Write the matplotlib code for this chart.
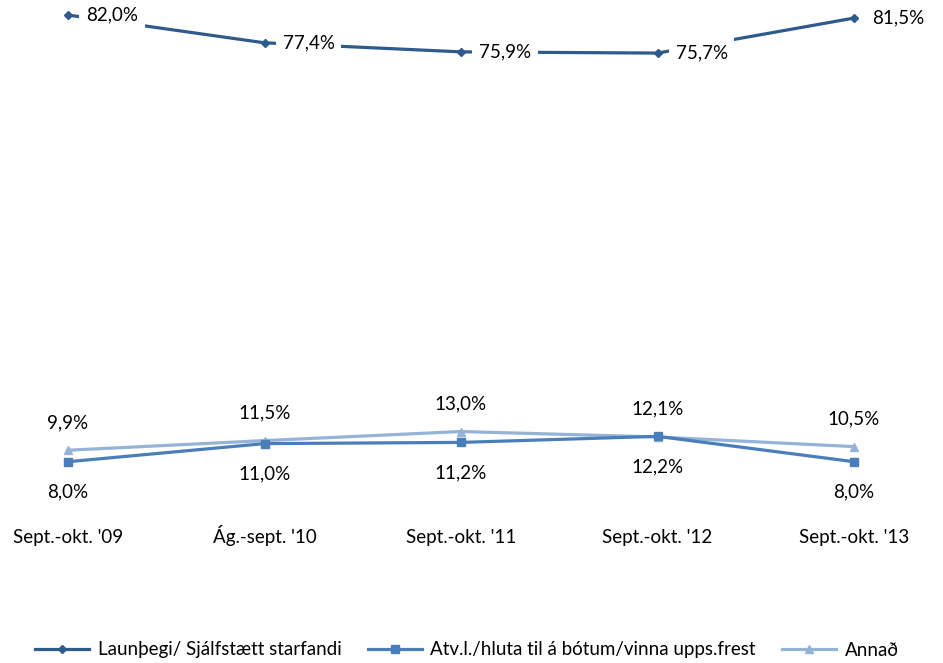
import matplotlib.pyplot as plt

plt.rcParams['font.family'] = ['Lato', 'DejaVu Sans']

# Data
categories = ["Sept.-okt. '09", "Ág.-sept. '10", "Sept.-okt. '11", "Sept.-okt. '12", "Sept.-okt. '13"]
launthegi = [82.0, 77.4, 75.9, 75.7, 81.5]
atvinnulausir = [8.0, 11.0, 11.2, 12.2, 8.0]
annad = [9.9, 11.5, 13.0, 12.1, 10.5]

names = ['Launþegi/ Sjálfstætt starfandi', 'Atv.l./hluta til á bótum/vinna upps.frest', 'Annað']
colors = ['#2E5A8C', '#4A7EBB', '#95B3D7']

fig = plt.figure(figsize=(9.43, 6.63), dpi=100)
ax = fig.add_axes([0, 153 / 663, 1, 510 / 663])
x = list(range(len(categories)))

ax.plot(x, launthegi, color=colors[0], lw=2.3, marker='D', ms=4, label=names[0], zorder=3)
ax.plot(x, atvinnulausir, color=colors[1], lw=2.3, marker='s', ms=6, label=names[1], zorder=2)
ax.plot(x, annad, color=colors[2], lw=2.3, marker='^', ms=6, label=names[2], zorder=1)

def fmt(v):
    return f'{v:.1f}%'.replace('.', ',')

for xi, v in zip(x, launthegi):
    ax.annotate(fmt(v), (xi, v), xytext=(13, 0), textcoords='offset points',
                ha='left', va='center', fontsize=13.5, zorder=5,
                bbox=dict(facecolor='white', edgecolor='none', boxstyle='square,pad=0.35'))
for xi, v in zip(x, atvinnulausir):
    ax.annotate(fmt(v), (xi, v), xytext=(0, -22), textcoords='offset points',
                ha='center', va='center', fontsize=13.5)
for xi, v in zip(x, annad):
    ax.annotate(fmt(v), (xi, v), xytext=(0, 20), textcoords='offset points',
                ha='center', va='center', fontsize=13.5)

ax.set_xlim(-68 / 196.5, (943 - 68) / 196.5)
ax.set_ylim(0, 510 / 6.036)
ax.set_xticks(x)
ax.set_xticklabels(categories, fontsize=13.5, va='baseline')
ax.tick_params(axis='x', length=0, pad=24)
ax.set_yticks([])
for s in ax.spines.values():
    s.set_visible(False)

fig.legend(loc='center', bbox_to_anchor=(0.495, 13 / 663), ncol=3, frameon=False,
           fontsize=13.5, handlelength=2.9, columnspacing=1.4, handletextpad=0.45)

fig.savefig('out.png', dpi=100)
